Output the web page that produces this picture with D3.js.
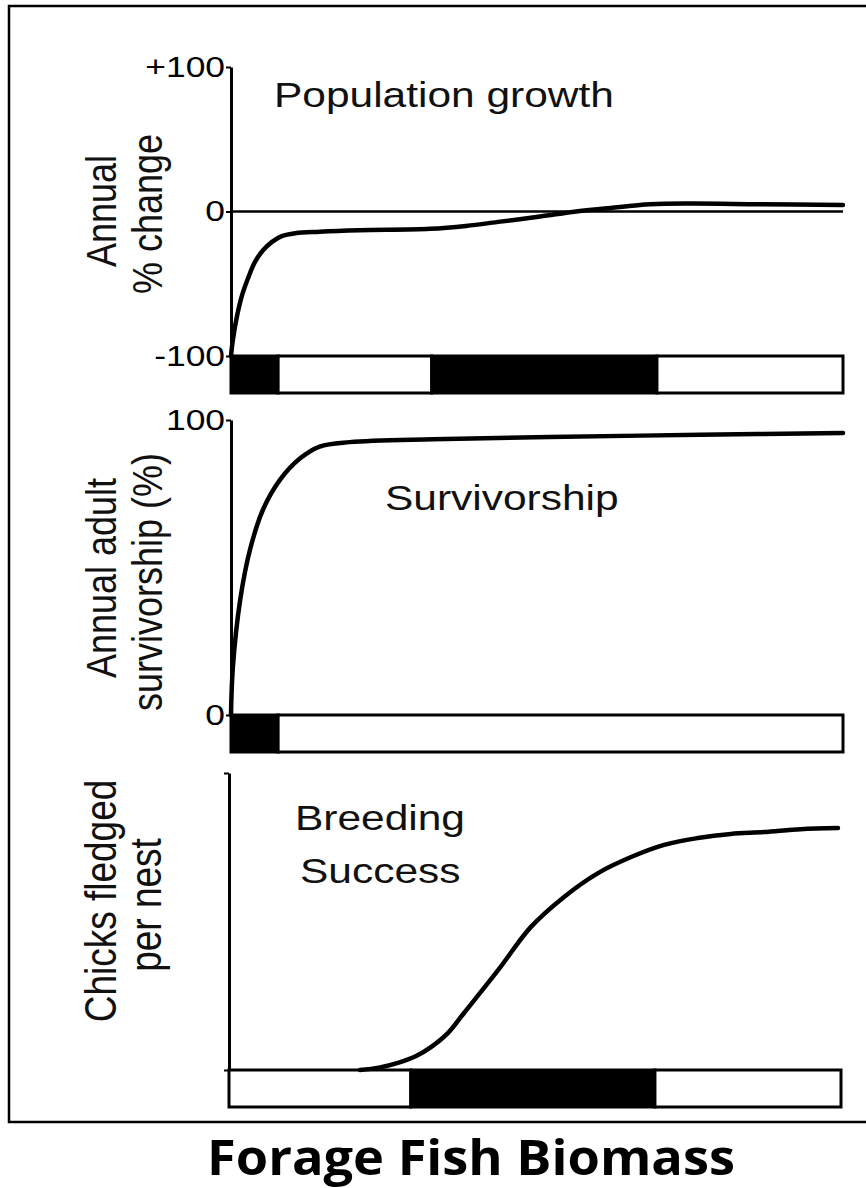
<!DOCTYPE html>
<html>
<head>
<meta charset="utf-8">
<script src="https://cdn.jsdelivr.net/npm/d3@7"></script>
<style>
  body { margin: 0; background: #fff; }
  svg { display: block; }
</style>
</head>
<body>
<div id="chart"></div>
<script>
const width = 866;
const height = 1188;
const stretch = 1.18; // the scanned figure is wider than tall

// forage fish biomass (0-100, relative) along the x axis

// population growth: annual % change
const popBiomass = [0, 0.3, 1, 1.8, 2.8, 3.9, 5.2, 6.7, 8.3, 10.5, 14.5, 21, 32.5, 38.4, 44, 50.5, 56.4, 62, 68.5, 75, 86.4, 100];
const popChange = [-100, -89, -72, -58, -46, -35, -27, -21, -17, -15, -14, -13, -12, -10, -7, -3.5, 0, 2.5, 5, 5.5, 5, 4.5];
const popTicks = [-100, 0, 100];
const popTickLabels = ['-100', '0', '+100'];
const popBarEdges = [0, 7.7, 32.8, 69.6, 100];
const popBarState = ['below', 'above', 'below', 'above'];

// annual adult survivorship (%)
const survBiomass = [0, 0.3, 1.5, 3.1, 5.2, 8, 11.3, 14.5, 19.4, 33, 52, 76.6, 100];
const survPct = [0, 16, 39, 56, 69.5, 79.7, 87, 91, 92.5, 93.5, 94.2, 95, 95.6];
const survTicks = [0, 100];
const survTickLabels = ['0', '100'];
const survBarEdges = [0, 7.7, 100];
const survBarState = ['below', 'above'];

// breeding success: chicks fledged per nest (relative)
const breedBiomass = [21.4, 24.5, 27.6, 30.5, 33, 35.8, 38.4, 44, 49.3, 54.7, 60.3, 65.7, 71.1, 76.6, 82, 87.4, 93.4, 99.5];
const breedChicks = [0, 0.8, 2.4, 4.6, 7.7, 12.5, 19.2, 33.7, 48.1, 58.2, 66.3, 71.7, 75.8, 78.1, 79.5, 80.1, 81.1, 81.5];
const breedTicks = [0, 100];
const breedBarEdges = [0, 29.7, 69.6, 100];
const breedBarState = ['above', 'below', 'above'];

const barFill = d3.scaleOrdinal().domain(['below', 'above']).range(['#000', '#fff']);

const svg = d3.select('#chart')
    .append('svg')
    .attr('width', width)
    .attr('height', height);

svg.append('rect')
    .attr('width', width)
    .attr('height', height)
    .attr('fill', '#fff');

// frame around the figure
svg.append('rect')
    .attr('x', 9)
    .attr('y', 6)
    .attr('width', 880)
    .attr('height', 1116)
    .attr('fill', 'none')
    .attr('stroke', '#000')
    .attr('stroke-width', 2.5);

const labelFont = '"Liberation Sans", Arial, sans-serif';

const drawPanel = p => {
    const x = d3.scaleLinear().domain([0, 100]).range([p.left, p.left + 612]);
    const y = d3.scaleLinear().domain(p.domain).range(p.range);
    const g = svg.append('g');

    // biomass state bar under the axis
    const barTop = p.range[0];
    const segs = p.state.map((s, i) => ({ s, from: p.edges[i], to: p.edges[i + 1] }));
    g.selectAll('.seg')
        .data(segs)
        .enter()
        .append('rect')
        .attr('x', d => x(d.from))
        .attr('y', barTop)
        .attr('width', d => x(d.to) - x(d.from))
        .attr('height', 37)
        .attr('fill', d => barFill(d.s))
        .attr('stroke', '#000')
        .attr('stroke-width', 3);

    if (p.zeroLine) {
        g.append('line')
            .attr('x1', x(0))
            .attr('x2', x(100))
            .attr('y1', y(0))
            .attr('y2', y(0))
            .attr('stroke', '#000')
            .attr('stroke-width', 2.5);
    }

    // y axis
    const axis = d3.axisLeft(y)
        .tickValues(p.ticks)
        .tickSize(5)
        .tickSizeOuter(0)
        .tickFormat((d, i) => p.tickLabels ? p.tickLabels[i] : '');
    const ax = g.append('g')
        .attr('transform', `translate(${p.left},0)`)
        .call(axis);
    ax.select('.domain').attr('stroke-width', 3);
    ax.selectAll('.tick line').attr('stroke-width', 2);
    ax.selectAll('.tick text')
        .attr('x', -6 / stretch)
        .attr('dy', '0.3em')
        .attr('transform', `scale(${stretch},1)`)
        .style('font', `30px ${labelFont}`)
        .attr('fill', '#000');

    // curve
    const line = d3.line()
        .x((d, i) => x(p.xs[i]))
        .y(d => y(d))
        .curve(d3.curveCatmullRom.alpha(0.5));
    g.append('path')
        .datum(p.ys)
        .attr('fill', 'none')
        .attr('stroke', '#000')
        .attr('stroke-width', 4.5)
        .attr('stroke-linecap', 'round')
        .attr('d', line);

    // panel title
    p.title.forEach(t => {
        g.append('text')
            .attr('transform', `translate(${t.x},${t.y}) scale(${stretch},1)`)
            .style('font', `36px ${labelFont}`)
            .attr('fill', '#111')
            .text(t.text);
    });

    // rotated y label
    p.ylabel.forEach(t => {
        g.append('text')
            .attr('transform', `translate(${t.x},${t.y}) scale(${stretch},1) rotate(-90)`)
            .attr('text-anchor', 'middle')
            .style('font', `${t.size}px ${labelFont}`)
            .attr('fill', '#111')
            .text(t.text);
    });
};

drawPanel({
    left: 231,
    domain: [-100, 100],
    range: [356, 67],
    xs: popBiomass,
    ys: popChange,
    ticks: popTicks,
    tickLabels: popTickLabels,
    edges: popBarEdges,
    state: popBarState,
    zeroLine: true,
    title: [{ text: 'Population growth', x: 274, y: 107 }],
    ylabel: [
        { text: 'Annual', x: 116, y: 211, size: 36 },
        { text: '% change', x: 162, y: 214, size: 36 }
    ]
});

drawPanel({
    left: 231,
    domain: [0, 100],
    range: [715, 420],
    xs: survBiomass,
    ys: survPct,
    ticks: survTicks,
    tickLabels: survTickLabels,
    edges: survBarEdges,
    state: survBarState,
    zeroLine: false,
    title: [{ text: 'Survivorship', x: 385, y: 510 }],
    ylabel: [
        { text: 'Annual adult', x: 116, y: 578, size: 36 },
        { text: 'survivorship (%)', x: 162, y: 582, size: 36 }
    ]
});

drawPanel({
    left: 229,
    domain: [0, 100],
    range: [1070, 773],
    xs: breedBiomass,
    ys: breedChicks,
    ticks: breedTicks,
    tickLabels: null,
    edges: breedBarEdges,
    state: breedBarState,
    zeroLine: false,
    title: [
        { text: 'Breeding', x: 295, y: 830 },
        { text: 'Success', x: 300, y: 883 }
    ],
    ylabel: [
        { text: 'Chicks fledged', x: 116, y: 901, size: 37 },
        { text: 'per nest', x: 161, y: 905, size: 37 }
    ]
});

// x axis title
svg.append('text')
    .attr('x', 471)
    .attr('y', 1175)
    .attr('text-anchor', 'middle')
    .attr('textLength', 528)
    .attr('lengthAdjust', 'spacingAndGlyphs')
    .style('font', '700 48px "Open Sans", sans-serif')
    .attr('fill', '#000')
    .text('Forage Fish Biomass');
</script>
</body>
</html>
